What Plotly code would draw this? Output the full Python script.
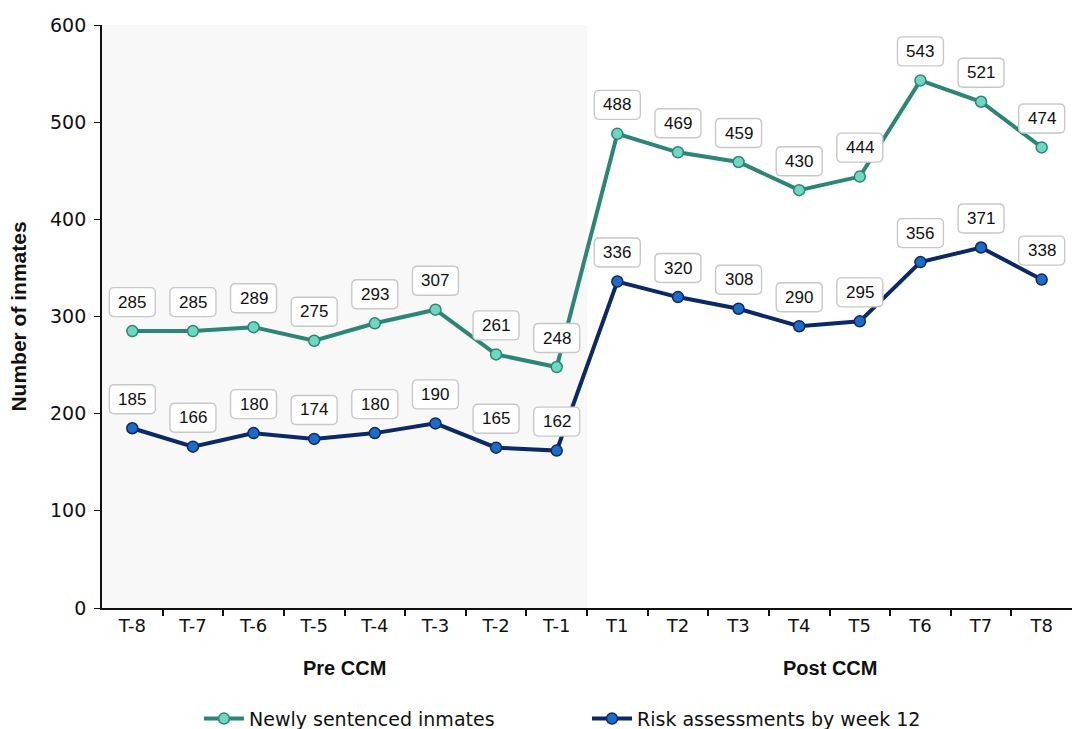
import plotly.graph_objects as go

periods = ["T-8", "T-7", "T-6", "T-5", "T-4", "T-3", "T-2", "T-1",
           "T1", "T2", "T3", "T4", "T5", "T6", "T7", "T8"]
newly_sentenced = [285, 285, 289, 275, 293, 307, 261, 248,
                   488, 469, 459, 430, 444, 543, 521, 474]
risk_assessments = [185, 166, 180, 174, 180, 190, 165, 162,
                    336, 320, 308, 290, 295, 356, 371, 338]
phase_labels = ["Pre CCM", "Post CCM"]
y_ticks = [0, 100, 200, 300, 400, 500, 600]

TEAL_LINE, TEAL_FILL = "#2b8676", "#6fd6c0"
NAVY_LINE, NAVY_FILL = "#0c2868", "#1c6cc6"

fig = go.Figure()

fig.add_trace(go.Scatter(
    x=list(range(len(periods))), y=newly_sentenced, mode="lines+markers",
    name="Newly sentenced inmates",
    line=dict(color=TEAL_LINE, width=4),
    marker=dict(size=11, color=TEAL_FILL, line=dict(color=TEAL_LINE, width=1.5)),
))
fig.add_trace(go.Scatter(
    x=list(range(len(periods))), y=risk_assessments, mode="lines+markers",
    name="Risk assessments by week 12",
    line=dict(color=NAVY_LINE, width=4),
    marker=dict(size=11, color=NAVY_FILL, line=dict(color=NAVY_LINE, width=1.5)),
))

# shaded pre-intervention period
fig.add_shape(type="rect", xref="x", yref="paper", x0=-0.5, x1=7.5, y0=0, y1=1,
              fillcolor="#f8f8f8", line=dict(width=0), layer="below")


def rounded_box(w, h, r, cy):
    """Rounded rectangle path in pixel offsets, centred cy px above the anchor."""
    x0, x1 = -w / 2, w / 2
    y0, y1 = cy - h / 2, cy + h / 2
    return (f"M {x0 + r},{y0} L {x1 - r},{y0} Q {x1},{y0} {x1},{y0 + r} "
            f"L {x1},{y1 - r} Q {x1},{y1} {x1 - r},{y1} L {x0 + r},{y1} "
            f"Q {x0},{y1} {x0},{y1 - r} L {x0},{y0 + r} Q {x0},{y0} {x0 + r},{y0} Z")


LABEL_SHIFT = 29
# value boxes above each point
for series in (newly_sentenced, risk_assessments):
    for i, v in enumerate(series):
        fig.add_shape(
            type="path", xref="x", yref="y", xsizemode="pixel", ysizemode="pixel",
            xanchor=i, yanchor=v, path=rounded_box(46, 29, 5, LABEL_SHIFT),
            fillcolor="white", line=dict(color="#c8c8c8", width=1.4), layer="above",
        )
        fig.add_annotation(
            x=i, y=v, text=str(v), showarrow=False, yshift=LABEL_SHIFT,
            font=dict(family="Liberation Sans, Arial", size=17, color="#111"),
        )

# phase labels below the axis
for label, center in zip(phase_labels, [3.5, 11.5]):
    fig.add_annotation(
        x=center, y=0, xref="x", yref="paper", yshift=-60, yanchor="middle",
        showarrow=False, text=f"<b>{label}</b>",
        font=dict(family="Liberation Sans, Arial", size=20, color="#111"),
    )

fig.update_layout(
    width=1072, height=729,
    margin=dict(l=102, r=0, t=25, b=121, autoexpand=False),
    plot_bgcolor="white", paper_bgcolor="white",
    font=dict(family="DejaVu Sans", size=17, color="#111"),
    showlegend=True,
    legend=dict(orientation="h", x=0.1, xanchor="left", y=-0.19, yanchor="middle",
                font=dict(family="DejaVu Sans", size=19), itemwidth=40,
                entrywidth=333),
    xaxis=dict(
        tickmode="array", tickvals=list(range(len(periods))), ticktext=periods,
        ticks="", showline=True, linecolor="#111", linewidth=1.8,
        showgrid=False, zeroline=False, range=[-0.5, 15.5],
        tickfont=dict(family="DejaVu Sans", size=18),
        minor=dict(tickvals=[i - 0.5 for i in range(1, len(periods))],
                   ticks="outside", ticklen=6, tickcolor="#111", tickwidth=1.5),
    ),
    yaxis=dict(
        range=[0, 600], tickvals=y_ticks, ticks="outside", ticklen=6,
        tickcolor="#111", showline=True, linecolor="#111", linewidth=1.8,
        showgrid=False, zeroline=False, ticklabelstandoff=4,
        tickfont=dict(family="DejaVu Sans", size=19),
        title=dict(text="<b>Number of inmates</b>",
                   font=dict(family="Liberation Sans, Arial", size=21), standoff=18),
    ),
)

fig.write_html("out.html")
